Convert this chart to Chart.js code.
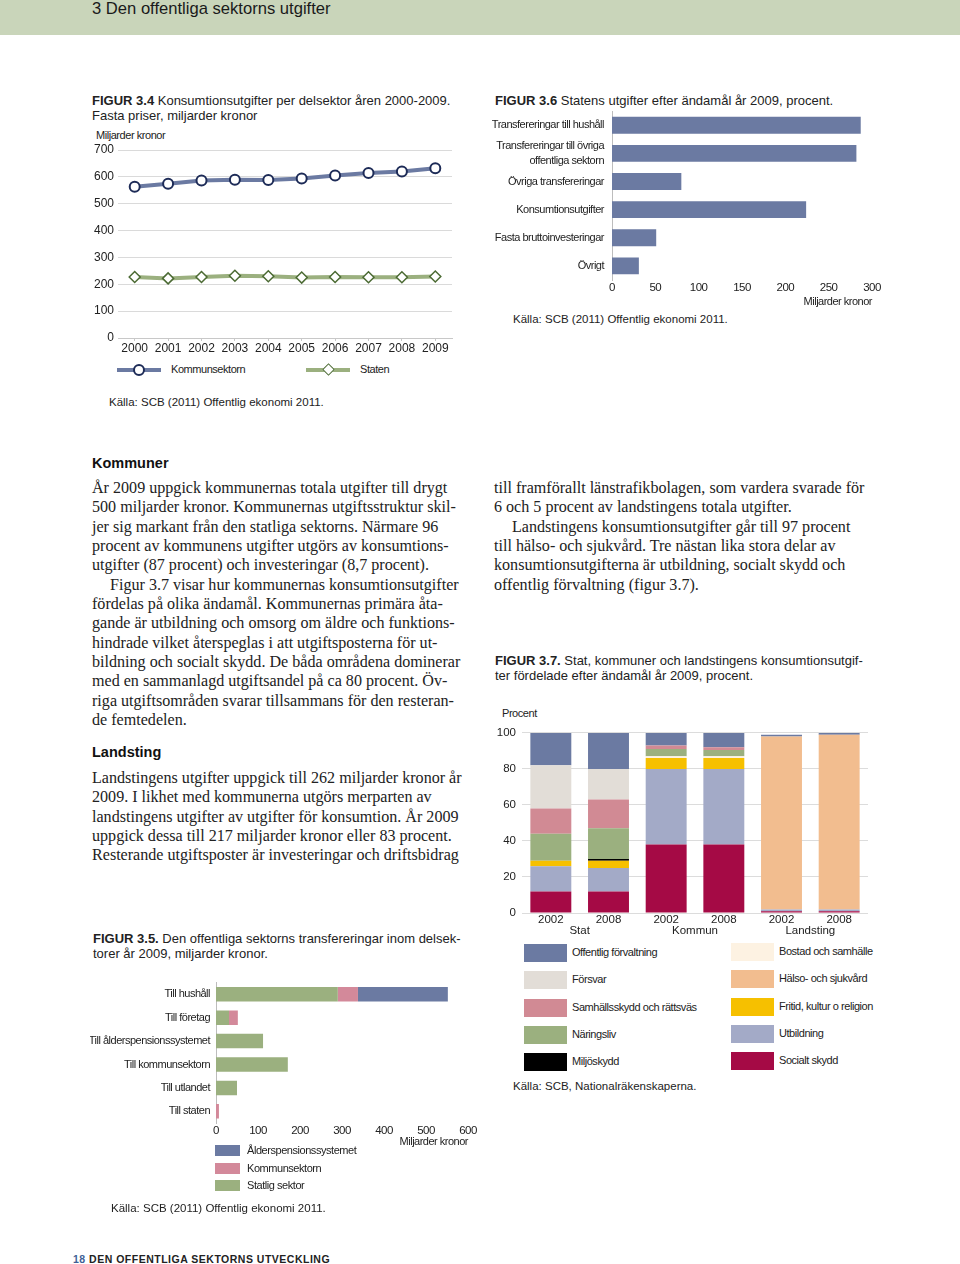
<!DOCTYPE html>
<html lang="sv">
<head>
  <meta charset="UTF-8" />
  <title>3 Den offentliga sektorns utgifter</title>
  <style>
    body { margin: 0; width: 960px; height: 1264px; background: #fff; position: relative; font-family: 'Liberation Sans', Arial, sans-serif; color: #222; overflow: hidden; }
    .abs { position: absolute; }
    #topband { left: 0; top: 0; width: 960px; height: 35px; background: #c9d5ba; }
    #topband span { position: absolute; left: 92px; top: -1px; font-size: 16.6px; color: #1a1a1a; }
    .fig { font-size: 13px; line-height: 15px; color: #222; }
    .fig b { font-weight: bold; }
    .small { font-family: 'Liberation Sans', Arial, sans-serif; font-size: 11px; letter-spacing: -0.45px; color: #222; }
    .src { font-size: 11.5px; color: #222; }
    .serif { font-family: 'Liberation Serif', 'DejaVu Serif', serif; font-size: 16.1px; line-height: 19.35px; color: #222; white-space: nowrap; }
    .ind { padding-left: 18px; }
    .head { font-weight: bold; font-size: 14.5px; color: #111; }
    .chartbox { position: absolute; }
    .sw { position: absolute; }
    .lg { position: absolute; white-space: nowrap; }
  </style>
  <script src="https://cdn.jsdelivr.net/npm/chart.js"></script>
</head>
<body>
  <div id="topband" class="abs"><span>3 Den offentliga sektorns utgifter</span></div>

  <!-- Figur 3.4 -->
  <div class="abs fig" style="left:92px; top:93px; width:380px;"><b>FIGUR 3.4</b> Konsumtionsutgifter per delsektor åren 2000-2009. Fasta priser, miljarder kronor</div>
  <div class="abs small" style="left:96px; top:129px;">Miljarder kronor</div>
  <div class="chartbox" style="left:88px; top:128px; width:372px; height:230px;"><canvas id="c34"></canvas></div>
  <div id="legend34"></div>
  <div class="abs src" style="left:109px; top:396px;">Källa: SCB (2011) Offentlig ekonomi 2011.</div>

  <!-- Figur 3.6 -->
  <div class="abs fig" style="left:495px; top:93px;"><b>FIGUR 3.6</b> Statens utgifter efter ändamål år 2009, procent.</div>
  <div class="chartbox" style="left:490px; top:96px; width:400px; height:213px;"><canvas id="c36"></canvas></div>
  <div class="abs src" style="left:513px; top:313px;">Källa: SCB (2011) Offentlig ekonomi 2011.</div>

  <!-- Text -->
  <div class="abs head" style="left:92px; top:455px;">Kommuner</div>
  <div class="abs serif" style="left:92px; top:478px;">
    <div>År 2009 uppgick kommunernas totala utgifter till drygt</div>
    <div>500 miljarder kronor. Kommunernas utgiftsstruktur skil-</div>
    <div>jer sig markant från den statliga sektorns. Närmare 96</div>
    <div>procent av kommunens utgifter utgörs av konsumtions-</div>
    <div>utgifter (87 procent) och investeringar (8,7 procent).</div>
    <div class="ind">Figur 3.7 visar hur kommunernas konsumtionsutgifter</div>
    <div>fördelas på olika ändamål. Kommunernas primära åta-</div>
    <div>gande är utbildning och omsorg om äldre och funktions-</div>
    <div>hindrade vilket återspeglas i att utgiftsposterna för ut-</div>
    <div>bildning och socialt skydd. De båda områdena dominerar</div>
    <div>med en sammanlagd utgiftsandel på ca 80 procent. Öv-</div>
    <div>riga utgiftsområden svarar tillsammans för den resteran-</div>
    <div>de femtedelen.</div>
  </div>
  <div class="abs head" style="left:92px; top:744px;">Landsting</div>
  <div class="abs serif" style="left:92px; top:768px;">
    <div>Landstingens utgifter uppgick till 262 miljarder kronor år</div>
    <div>2009. I likhet med kommunerna utgörs merparten av</div>
    <div>landstingens utgifter av utgifter för konsumtion. År 2009</div>
    <div>uppgick dessa till 217 miljarder kronor eller 83 procent.</div>
    <div>Resterande utgiftsposter är investeringar och driftsbidrag</div>
  </div>
  <div class="abs serif" style="left:494px; top:478px;">
    <div>till framförallt länstrafikbolagen, som vardera svarade för</div>
    <div>6 och 5 procent av landstingens totala utgifter.</div>
    <div class="ind">Landstingens konsumtionsutgifter går till 97 procent</div>
    <div>till hälso- och sjukvård. Tre nästan lika stora delar av</div>
    <div>konsumtionsutgifterna är utbildning, socialt skydd och</div>
    <div>offentlig förvaltning (figur 3.7).</div>
  </div>

  <!-- Figur 3.7 -->
  <div class="abs fig" style="left:495px; top:653px; width:370px;"><b>FIGUR 3.7.</b> Stat, kommuner och landstingens konsumtionsutgif-<br>ter fördelade efter ändamål år 2009, procent.</div>
  <div class="abs small" style="left:502px; top:707px;">Procent</div>
  <div class="chartbox" style="left:495px; top:720px; width:385px; height:223px;"><canvas id="c37"></canvas></div>
  <div id="legend37"></div>
  <div class="abs src" style="left:513px; top:1080px;">Källa: SCB, Nationalräkenskaperna.</div>

  <!-- Figur 3.5 -->
  <div class="abs fig" style="left:93px; top:931px; width:380px;"><b>FIGUR 3.5.</b> Den offentliga sektorns transfereringar inom delsek-<br>torer år 2009, miljarder kronor.</div>
  <div class="chartbox" style="left:90px; top:970px; width:390px; height:179px;"><canvas id="c35"></canvas></div>
  <div id="legend35"></div>
  <div class="abs src" style="left:111px; top:1202px;">Källa: SCB (2011) Offentlig ekonomi 2011.</div>

  <div class="abs" style="left:73px; top:1253px; font-size:10.5px; font-weight:bold; letter-spacing:0.5px; color:#222;"><span style="color:#3f5f96">18</span> DEN OFFENTLIGA SEKTORNS UTVECKLING</div>

  <script>
    // Figur 3.4
    const years = ['2000', '2001', '2002', '2003', '2004', '2005', '2006', '2007', '2008', '2009'];
    const kommunsektorn = [563, 574, 586, 589, 588, 594, 605, 614, 620, 632];
    const staten = [227, 222, 227, 232, 230, 225, 227, 226, 226, 229];

    // Figur 3.6
    const purposeLabels = ['Transfereringar till hushåll', ['Transfereringar till övriga', 'offentliga sektorn'], 'Övriga transfereringar', 'Konsumtionsutgifter', 'Fasta bruttoinvesteringar', 'Övrigt'];
    const purposeValues = [287, 282, 80, 224, 51, 31];

    // Figur 3.5
    const transferLabels = ['Till hushåll', 'Till företag', 'Till ålderspensionssystemet', 'Till kommunsektorn', 'Till utlandet', 'Till staten'];
    const statligSektor = [290, 31, 112, 171, 50, 0];
    const kommunTransfer = [48, 21, 0, 0, 0, 7];
    const alderspension = [214, 0, 0, 0, 0, 0];

    // Figur 3.7 (stacked bottom -> top)
    const groupNames = ['Stat', 'Kommun', 'Landsting'];
    const barYears = ['2002', '2008', '2002', '2008', '2002', '2008'];
    const socialtSkydd = [12, 12, 38, 38, 1, 1];
    const utbildning = [14, 13, 42, 42, 1, 1];
    const fritid = [3, 4, 6, 6, 0, 0];
    const halsoSjukvard = [0, 0, 0, 0, 96, 97];
    const bostad = [0, 0, 1, 1, 0, 0];
    const miljoskydd = [0, 1, 0, 0, 0, 0];
    const naringsliv = [15, 17, 4, 3.5, 0, 0];
    const samhallsskydd = [14, 16, 2, 1.5, 0, 0];
    const forsvar = [24, 17, 0, 0, 0, 0];
    const offentligForvaltning = [18, 20, 7, 8, 1, 1];

    const BLUE = '#6b7aa2', PINK = '#d3899a', GREEN = '#9bb07f';

    Chart.defaults.font.family = "'Liberation Sans', Arial, sans-serif";
    Chart.defaults.color = '#222';
    Chart.defaults.animation = false;
    Chart.defaults.plugins.legend.display = false;
    Chart.defaults.plugins.tooltip.enabled = false;

    function fixWidth(w) { return scale => { scale.width = w; }; }
    function fixHeight(h) { return scale => { scale.height = h; }; }

    // squeeze the canvas text a little, the print uses a narrow face
    const narrowText = {
      id: 'narrowText',
      beforeDraw(chart) { chart.ctx.letterSpacing = '-0.5px'; }
    };

    // ---- 3.4 line chart
    new Chart(document.getElementById('c34'), {
      type: 'line',
      data: {
        labels: years,
        datasets: [
          { label: 'Kommunsektorn', data: kommunsektorn, borderColor: BLUE, borderWidth: 4,
            pointRadius: 5, pointBackgroundColor: '#fff', pointBorderColor: '#1d2b57', pointBorderWidth: 2 },
          { label: 'Staten', data: staten, borderColor: GREEN, borderWidth: 4, pointStyle: 'rectRot',
            pointRadius: 5.5, pointBackgroundColor: '#fff', pointBorderColor: '#4b6a33', pointBorderWidth: 1.5 }
        ]
      },
      options: {
        responsive: true, maintainAspectRatio: false,
        layout: { padding: { top: 22, right: 8 } },
        scales: {
          y: { min: 0, max: 700, afterFit: fixWidth(30),
               ticks: { stepSize: 100, padding: 4, font: { size: 12 } },
               grid: { color: '#dadada', drawTicks: false }, border: { display: false } },
          x: { offset: true, afterFit: fixHeight(20),
               ticks: { padding: 0, font: { size: 12 } },
               grid: { drawOnChartArea: false, tickLength: 3, color: '#c8c8c8' }, border: { color: '#c8c8c8' } }
        }
      }
    });

    // legend 3.4
    (function () {
      const lg = document.getElementById('legend34');
      const items = [
        { name: 'Kommunsektorn', color: BLUE, x: 117, mark: 'circle', edge: '#1d2b57' },
        { name: 'Staten', color: GREEN, x: 306, mark: 'diamond', edge: '#4b6a33' }
      ];
      items.forEach(it => {
        const line = document.createElement('div');
        line.className = 'sw';
        line.style.cssText = `left:${it.x}px; top:368px; width:44px; height:4px; background:${it.color};`;
        lg.appendChild(line);
        const m = document.createElement('div');
        m.className = 'sw';
        if (it.mark === 'circle') {
          m.style.cssText = `left:${it.x + 16}px; top:364px; width:8px; height:8px; border:2px solid ${it.edge}; border-radius:50%; background:#fff;`;
        } else {
          m.style.cssText = `left:${it.x + 18}px; top:365px; width:7px; height:7px; border:1.5px solid ${it.edge}; background:#fff; transform:rotate(45deg);`;
        }
        lg.appendChild(m);
        const t = document.createElement('div');
        t.className = 'lg small';
        t.style.cssText = `left:${it.x + 54}px; top:363px;`;
        t.textContent = it.name;
        lg.appendChild(t);
      });
    })();

    // ---- 3.6 horizontal bars
    new Chart(document.getElementById('c36'), {
      type: 'bar',
      data: { labels: purposeLabels, datasets: [{ data: purposeValues, backgroundColor: BLUE, barPercentage: 0.6, categoryPercentage: 1 }] },
      options: {
        indexAxis: 'y', responsive: true, maintainAspectRatio: false,
        layout: { padding: { top: 0, right: 18 } },
        scales: {
          x: { min: 0, max: 300, afterFit: fixHeight(29),
               ticks: { stepSize: 50, padding: 1, font: { size: 11.5 } },
               grid: { display: false, drawTicks: false }, border: { display: false },
               title: { display: true, text: 'Miljarder kronor', align: 'end', padding: 0, font: { size: 11 } } },
          y: { afterFit: fixWidth(122),
               ticks: { autoSkip: false, padding: 8, font: { size: 11, lineHeight: 1.3 } },
               grid: { display: false, drawTicks: false }, border: { color: '#bdbdbd' } }
        }
      },
      plugins: [narrowText]
    });

    // ---- 3.5 stacked horizontal bars
    new Chart(document.getElementById('c35'), {
      type: 'bar',
      data: {
        labels: transferLabels,
        datasets: [
          { label: 'Statlig sektor', data: statligSektor, backgroundColor: GREEN },
          { label: 'Kommunsektorn', data: kommunTransfer, backgroundColor: PINK },
          { label: 'Ålderspensionssystemet', data: alderspension, backgroundColor: BLUE }
        ]
      },
      options: {
        indexAxis: 'y', responsive: true, maintainAspectRatio: false,
        datasets: { bar: { barPercentage: 0.62, categoryPercentage: 1 } },
        layout: { padding: { top: 0, right: 12 } },
        scales: {
          x: { stacked: true, min: 0, max: 600, afterFit: fixHeight(26),
               ticks: { stepSize: 100, padding: 1, font: { size: 11.5 } },
               grid: { display: false, drawTicks: false }, border: { display: false },
               title: { display: true, text: 'Miljarder kronor', align: 'end', padding: 0, font: { size: 11 } } },
          y: { stacked: true, afterFit: fixWidth(126),
               ticks: { autoSkip: false, padding: 6, font: { size: 11 } },
               grid: { display: false, drawTicks: false }, border: { color: '#bdbdbd' } }
        }
      },
      plugins: [narrowText]
    });

    // legend 3.5
    (function () {
      const lg = document.getElementById('legend35');
      [['Ålderspensionssystemet', BLUE], ['Kommunsektorn', PINK], ['Statlig sektor', GREEN]].forEach((it, i) => {
        const y = 1145 + i * 17.5;
        const s = document.createElement('div');
        s.className = 'sw';
        s.style.cssText = `left:215px; top:${y}px; width:25px; height:11px; background:${it[1]};`;
        lg.appendChild(s);
        const t = document.createElement('div');
        t.className = 'lg small';
        t.style.cssText = `left:247px; top:${y - 1}px;`;
        t.textContent = it[0];
        lg.appendChild(t);
      });
    })();

    // ---- 3.7 stacked percent bars
    const series37 = [
      { name: 'Socialt skydd', data: socialtSkydd, color: '#a50a45' },
      { name: 'Utbildning', data: utbildning, color: '#a3aac7' },
      { name: 'Fritid, kultur o religion', data: fritid, color: '#f6c000' },
      { name: 'Hälso- och sjukvård', data: halsoSjukvard, color: '#f2bd8f' },
      { name: 'Bostad och samhälle', data: bostad, color: '#fdf2e2' },
      { name: 'Miljöskydd', data: miljoskydd, color: '#000000' },
      { name: 'Näringsliv', data: naringsliv, color: '#9bb07f' },
      { name: 'Samhällsskydd och rättsväs', data: samhallsskydd, color: '#d18a94' },
      { name: 'Försvar', data: forsvar, color: '#e2ddd7' },
      { name: 'Offentlig förvaltning', data: offentligForvaltning, color: '#6b7aa2' }
    ];

    const groupLabelPlugin = {
      id: 'groupLabels',
      afterDraw(chart) {
        const x = chart.scales.x, ctx = chart.ctx;
        ctx.save();
        ctx.font = "11.5px 'Liberation Sans', Arial, sans-serif";
        ctx.fillStyle = '#222';
        ctx.textAlign = 'center';
        ctx.textBaseline = 'middle';
        groupNames.forEach((g, i) => {
          const cx = (x.getPixelForValue(2 * i) + x.getPixelForValue(2 * i + 1)) / 2;
          ctx.fillText(g, cx, x.top + 18);
        });
        ctx.restore();
      }
    };

    new Chart(document.getElementById('c37'), {
      type: 'bar',
      data: {
        labels: barYears,
        datasets: series37.map(s => ({ label: s.name, data: s.data, backgroundColor: s.color, barPercentage: 0.71, categoryPercentage: 1 }))
      },
      options: {
        responsive: true, maintainAspectRatio: false,
        layout: { padding: { top: 0, right: 12 } },
        scales: {
          x: { stacked: true, afterFit: fixHeight(30),
               ticks: { padding: 0, font: { size: 11.5 } },
               grid: { display: false, drawTicks: false }, border: { display: false } },
          y: { stacked: true, min: 0, max: 100, afterFit: fixWidth(27),
               ticks: { stepSize: 20, padding: 6, font: { size: 11.5 } },
               grid: { color: '#dcdcdc', drawTicks: false }, border: { display: false } }
        }
      },
      plugins: [groupLabelPlugin]
    });

    // legend 3.7 (two columns, top -> bottom)
    (function () {
      const lg = document.getElementById('legend37');
      const left = ['Offentlig förvaltning', 'Försvar', 'Samhällsskydd och rättsväs', 'Näringsliv', 'Miljöskydd'];
      const right = ['Bostad och samhälle', 'Hälso- och sjukvård', 'Fritid, kultur o religion', 'Utbildning', 'Socialt skydd'];
      const cols = [{ names: left, x: 524, y0: 944 }, { names: right, x: 731, y0: 943 }];
      cols.forEach(col => {
        col.names.forEach((n, i) => {
          const s = series37.find(d => d.name === n);
          const y = col.y0 + i * 27.3;
          const sw = document.createElement('div');
          sw.className = 'sw';
          sw.style.cssText = `left:${col.x}px; top:${y}px; width:43px; height:18px; background:${s.color};`;
          lg.appendChild(sw);
          const t = document.createElement('div');
          t.className = 'lg small';
          t.style.cssText = `left:${col.x + 48}px; top:${y + 2}px;`;
          t.textContent = n;
          lg.appendChild(t);
        });
      });
    })();
  </script>
</body>
</html>
